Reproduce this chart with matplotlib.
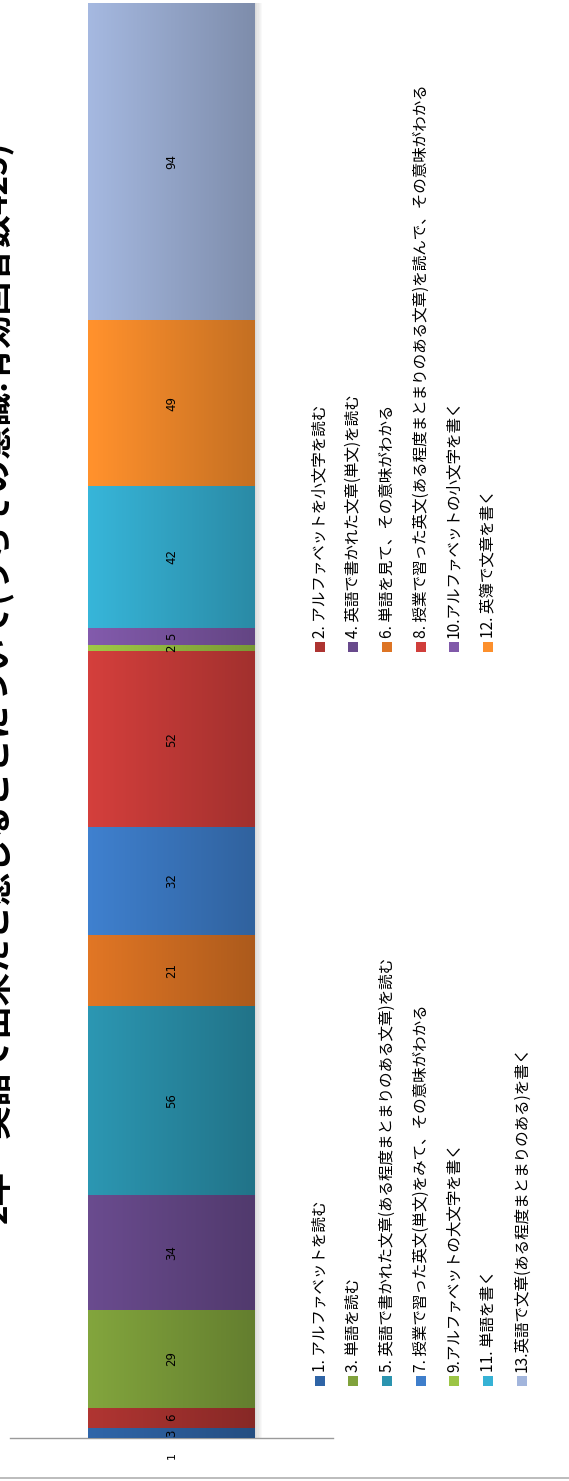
import numpy as np
import matplotlib
matplotlib.use("Agg")
import matplotlib.pyplot as plt
from matplotlib.patches import Rectangle
from matplotlib.lines import Line2D
from matplotlib.colors import to_rgb

plt.rcParams["font.family"] = ["Noto Sans CJK JP", "DejaVu Sans"]

# ─── Data ─────────────────────────────────────────────────────────────────────
TITLE = "2年・英語で出来たと感じることについて(うちその意識:有効回答数425)"
CATEGORY = ["1"]
ITEMS = [
    "1. アルファベットを読む",
    "2. アルファベットを小文字を読む",
    "3. 単語を読む",
    "4. 英語で書かれた文章(単文)を読む",
    "5. 英語で書かれた文章(ある程度まとまりのある文章)を読む",
    "6. 単語を見て、その意味がわかる",
    "7. 授業で習った英文(単文)をみて、その意味がわかる",
    "8. 授業で習った英文(ある程度まとまりのある文章)を読んで、その意味がわかる",
    "9.アルファベットの大文字を書く",
    "10.アルファベットの小文字を書く",
    "11. 単語を書く",
    "12. 英簿で文章を書く",
    "13.英語で文章(ある程度まとまりのある)を書く",
]
COUNTS = [3, 6, 29, 34, 56, 21, 32, 52, 2, 5, 42, 49, 94]
COLORS = ["#2f64a6", "#ad3431", "#80a23c", "#684a8c", "#2b94af", "#dd7424",
          "#3e7ecb", "#d03e3b", "#9cc545", "#8059a9", "#36b2d5", "#fc8f2c",
          "#a2b5dc"]

W, H, DPI = 569, 1481, 100
fig = plt.figure(figsize=(W / DPI, H / DPI), dpi=DPI)


def fx(px):
    return px / W


def fy(py):
    return 1 - py / H


# ─── Stacked bar (value axis runs bottom → top) ───────────────────────────────
ax = fig.add_axes([fx(10), fy(1438), (333 - 10) / W, (1438 - 3) / H])
total = sum(COUNTS)
bar_w = 167 / 323
bottom = 0
for val, col in zip(COUNTS, COLORS):
    bar = ax.bar(0, val, bar_w, bottom=bottom, color=col, linewidth=0,
                 zorder=2)[0]
    # left-to-right shading inside each segment
    rgb = np.array(to_rgb(col))
    shade = np.linspace(1.02, 0.78, 64)[None, :, None]
    grad = np.clip(rgb[None, None, :] * shade, 0, 1)
    x0, y0 = bar.get_x(), bar.get_y()
    ax.imshow(grad, extent=(x0, x0 + bar.get_width(), y0, y0 + val),
              aspect="auto", interpolation="bilinear", zorder=3)
    ax.text(0, bottom + val / 2, str(val), rotation=90, ha="center",
            va="center", fontsize=8.5, family="DejaVu Sans", zorder=5)
    bottom += val

# soft drop shadow on the right side of the bar
for i in range(6):
    ax.add_patch(Rectangle((bar_w / 2, 0), (i + 1) * 1.2 / 323, total,
                           color="black", alpha=0.025, linewidth=0, zorder=1))

ax.set_xlim(-0.5, 0.5)
ax.set_ylim(0, total)
ax.set_xticks([0])
ax.set_xticklabels(CATEGORY, rotation=90, fontsize=8, family="DejaVu Sans")
ax.tick_params(axis="x", length=0, pad=10)
ax.set_yticks([])
for side in ["top", "right", "left"]:
    ax.spines[side].set_visible(False)
ax.spines["bottom"].set_color("#9a9a9a")
ax.spines["bottom"].set_linewidth(1.0)

# ─── Title (runs past the left edge of the page) ─────────────────────────────
fig.text(fx(-3), fy(682), TITLE, rotation=90, ha="center", va="center",
         fontsize=24, fontweight="bold")

# ─── Legend: odd items in one row, even items in another ─────────────────────
col_x = [320, 353, 387, 421, 454, 488, 522]
for i, (label, col) in enumerate(zip(ITEMS, COLORS)):
    x = col_x[i // 2]
    my = 1381 if i % 2 == 0 else 647
    fig.patches.append(Rectangle((fx(x - 5), fy(my + 5)), 10 / W, 10 / H,
                                 transform=fig.transFigure, color=col,
                                 linewidth=0))
    fig.text(fx(x), fy(my - 9), label, rotation=90, ha="center",
             va="bottom", fontsize=11.2)

# outer frame line at the bottom
fig.add_artist(Line2D([0, 1], [fy(1478), fy(1478)], color="#b0b0b0",
                      linewidth=1.2, transform=fig.transFigure))

fig.savefig("out.png", dpi=DPI)
